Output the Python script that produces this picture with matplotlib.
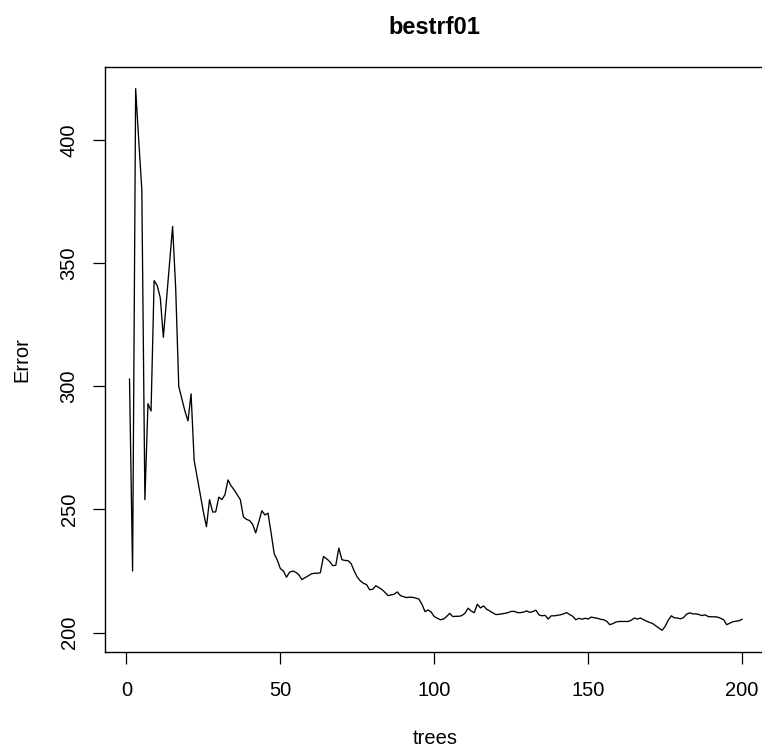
import matplotlib
matplotlib.use("Agg")
import matplotlib.pyplot as plt
import numpy as np

plt.rcParams['font.family'] = ['Liberation Sans', 'DejaVu Sans']

title = "bestrf01"
xlabel = "trees"
ylabel = "Error"

error = [
    303, 225, 421, 400, 380, 254, 293, 290, 343, 341,
    336, 320, 335, 350, 365, 340, 300, 295, 290, 286,
    297, 270, 263, 256, 249, 243, 254, 249, 249, 255,
    254, 256, 262, 259.6, 258, 256, 254, 247, 246, 245.5,
    244, 240.5, 245, 249.5, 247.8, 248.5, 240.5, 232, 229.5, 226,
    225, 222.5, 224.5, 225, 224.5, 223.5, 221.5, 222.3, 223, 223.8,
    224.1, 224.1, 224.3, 230.9, 230, 228.9, 227.2, 227.3, 234.3, 229.6,
    229.3, 229.2, 228, 225, 222.5, 221, 220, 219.5, 217.4, 217.6,
    219, 218.3, 217.5, 216.3, 215, 215.3, 215.6, 216.5, 215, 214.6,
    214.2, 214.4, 214.3, 214, 213.6, 211.5, 208.5, 209.2, 208.3, 206.5,
    205.8, 205.2, 205.5, 206.5, 207.8, 206.5, 206.6, 206.6, 206.9, 207.9,
    209.9, 208.7, 208.1, 211.5, 210, 210.8, 209.5, 208.8, 208, 207.3,
    207.4, 207.6, 207.8, 208.1, 208.6, 208.6, 208.1, 208.1, 208.3, 208.8,
    208.2, 208.5, 209.1, 207.2, 206.8, 207, 205.5, 206.8, 206.8, 207,
    207.2, 207.6, 208.1, 207.3, 206.6, 205.2, 205.8, 205.4, 205.8, 205.5,
    206.3, 206, 205.8, 205.4, 205.2, 204.6, 203.2, 203.6, 204.3, 204.5,
    204.5, 204.5, 204.5, 205, 205.9, 205.5, 205.9, 205.2, 204.6, 204.1,
    203.6, 202.7, 201.8, 200.9, 202.5, 205, 206.8, 206, 205.9, 205.6,
    206.1, 207.5, 208, 207.6, 207.6, 207.3, 206.9, 207.2, 206.5, 206.4,
    206.4, 206.3, 205.8, 205.2, 203.2, 203.8, 204.4, 204.6, 204.8, 205.4,
]
trees = list(range(1, len(error) + 1))

xticks = [0, 50, 100, 150, 200]
yticks = [200, 250, 300, 350, 400]

W, H = 762, 752
fig = plt.figure(figsize=(W / 100, H / 100), dpi=100)
ax = fig.add_axes([105 / W, (H - 652) / H, 661.6 / W, 585 / H])

ax.plot(trees, error, color='black', linewidth=0.95)

xr = max(trees) - min(trees)
yr = max(error) - min(error)
ax.set_xlim(min(trees) - 0.04 * xr, max(trees) + 0.04 * xr)
ax.set_ylim(min(error) - 0.04 * yr, max(error) + 0.04 * yr)

ax.set_xticks(xticks)
ax.set_yticks(yticks)
ax.set_xticklabels([str(t) for t in xticks])
ax.set_yticklabels([str(t) for t in yticks], rotation=90, va='center')
ax.tick_params(axis='both', direction='out', length=8.5, width=0.9,
               labelsize=14.5, colors='black')
ax.tick_params(axis='x', pad=12.5)
ax.tick_params(axis='y', pad=10.5)
for s in ax.spines.values():
    s.set_linewidth(1.0)
    s.set_color('black')
ax.spines['right'].set_visible(False)

fig.text(434 / W, 1 - 28 / H, title, ha='center', va='center',
         fontsize=17, fontweight='bold')
fig.text(435 / W, 1 - 738 / H, xlabel, ha='center', va='center', fontsize=14.5)
fig.text(22 / W, 1 - 360 / H, ylabel, ha='center', va='center',
         rotation=90, fontsize=14.5)

fig.savefig("out.png", dpi=100)
